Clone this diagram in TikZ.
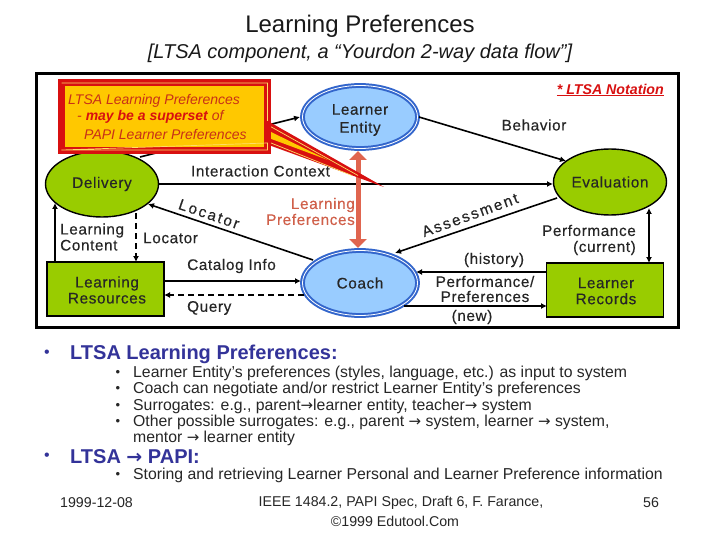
\documentclass[tikz,border=0pt]{standalone}
\usepackage{fontspec}
\setmainfont{Liberation Sans}
\newfontfamily\arrowfont{DejaVu Sans}
\usetikzlibrary{arrows.meta,shapes.geometric}
\definecolor{rednote}{HTML}{D81010}
\definecolor{calloutfill}{HTML}{FFC800}
\definecolor{limefill}{HTML}{99CC00}
\definecolor{bluefill}{HTML}{99CCFF}
\definecolor{blueedge}{HTML}{3366CC}
\definecolor{salmon}{HTML}{E0654F}
\definecolor{navy}{HTML}{333399}
\definecolor{pref}{HTML}{D0604A}
\definecolor{notetext}{HTML}{C83018}
\newcommand{\labfont}{\fontsize{15.3}{16}\selectfont\addfontfeature{LetterSpace=4,FakeBold=0.35}}
\newcommand{\myarrow}{{\arrowfont\scalebox{.95}{→}}}
\tikzset{
  x=1pt,y=-1pt,
  conn/.style={draw=black,line width=1.6pt,-{Latex[length=6pt,width=6pt]}},
  dconn/.style={conn,dash pattern=on 6pt off 4pt},
  limeell/.style={draw=black,line width=1.4pt,fill=limefill,ellipse,inner sep=0pt,minimum width=113pt,minimum height=66pt},
  blueell/.style={draw=blueedge,line width=2pt,fill=bluefill,ellipse,inner sep=0pt,minimum width=115pt,minimum height=63pt,double=white,double distance=.8pt},
  limebox/.style={draw=black,line width=1.6pt,fill=limefill,inner sep=0pt,minimum width=117pt,minimum height=54pt},
  lab/.style={font=\labfont,align=center,inner sep=0pt,text=black!85},
  sub/.style={anchor=west,inner sep=0pt,font=\fontsize{15.8}{17}\selectfont,text=black!85},
  head/.style={anchor=west,inner sep=0pt,font=\fontsize{20}{22}\selectfont\bfseries,text=navy},
  foot/.style={inner sep=0pt,font=\fontsize{14.2}{16}\selectfont,text=black!85},
  notetxt/.style={inner sep=0pt,anchor=west,text=notetext,font=\fontsize{14}{16}\selectfont\itshape},
}
\begin{document}
\begin{tikzpicture}
\useasboundingbox (0,0) rectangle (720,540);
\fill[white] (0,0) rectangle (720,540);
\node[inner sep=0pt,font=\fontsize{24}{26}\selectfont,text=black!90] (title) at (360,26) {Learning Preferences};
\node[inner sep=0pt,font=\fontsize{20}{22}\selectfont\itshape,text=black!90] (subtitle) at (360,53) {[LTSA component, a “Yourdon 2-way data flow”]};
\draw[line width=3pt,fill=white] (36,74) rectangle (678,327);
% nodes
\node[blueell] (learner) at (360,117) {};
\node[blueell,minimum height=65pt] (coach) at (360,283) {};
\node[limeell] (delivery) at (102,184) {};
\node[limeell] (evaluation) at (610,182) {};
\node[limebox] (resources) at (105.5,289) {};
\node[limebox] (records) at (605,290) {};
\node[lab] (tlearner) at (360,120) {Learner\\[2pt]Entity};
\node[lab] (tcoach) at (360,283) {Coach};
\node[lab] (tdelivery) at (102,184) {Delivery};
\node[lab] (tevaluation) at (610,182) {Evaluation};
\node[lab] (tresources) at (107,290) {Learning\\Resources};
\node[lab] (trecords) at (606,291) {Learner\\Records};
% connector ends
\coordinate (delTop) at (140,157);
\coordinate (leIn) at (300,117);
\coordinate (evIn) at (566,161);
\coordinate (leOut) at (419,117);
\coordinate (icA) at (159,184);
\coordinate (icB) at (553,184);
\coordinate (lpA) at (358,151);
\coordinate (lpB) at (358,248);
\coordinate (locA) at (313,260);
\coordinate (locB) at (148,204);
\coordinate (dlA) at (136,262);
\coordinate (dlB) at (136,213);
\coordinate (lcA) at (55,262);
\coordinate (lcB) at (55,203);
\coordinate (caA) at (164,281);
\coordinate (caB) at (301,281);
\coordinate (quA) at (304,295);
\coordinate (quB) at (164,295);
\coordinate (asA) at (557,198);
\coordinate (asB) at (395,253);
\coordinate (pcA) at (649,208);
\coordinate (pcB) at (649,263);
\coordinate (hiA) at (547,272);
\coordinate (hiB) at (416,272);
\coordinate (neA) at (404,306);
\coordinate (neB) at (547,306);
\draw[conn] (delTop) -- (leIn);
\draw[conn] (leOut) -- (evIn);
\draw[conn] (icA) -- (icB);
\draw[conn] (locA) -- (locB);
\draw[dconn] (dlB) -- (dlA);
\draw[conn] (lcA) -- (lcB);
\draw[conn] (caA) -- (caB);
\draw[dconn] (quA) -- (quB);
\draw[conn] (asA) -- (asB);
\draw[conn,{Latex[length=6pt,width=6pt]}-{Latex[length=6pt,width=6pt]}] (pcA) -- (pcB);
\draw[conn] (hiA) -- (hiB);
\draw[conn] (neA) -- (neB);
\draw[draw=salmon,line width=5pt,{Triangle[length=9pt,width=17pt]}-{Triangle[length=9pt,width=17pt]}] (lpA) -- (lpB);
% callout
\coordinate (tip) at (384,187);
\fill[rednote] (266,120) -- (tip) -- (266,144) -- cycle;
\fill[calloutfill] (266,129.5) -- (328,160) -- (266,137) -- cycle;
\draw[calloutfill!60!white,line width=.7pt] (266,124) -- (358,175.5);
\draw[calloutfill!60!white,line width=.7pt] (266,141) -- (352,175.5);
\node[draw=rednote,line width=7pt,fill=calloutfill,minimum width=206pt,minimum height=68pt,inner sep=0pt] (callout) at (164.5,116.5) {};
\draw[calloutfill!60!white,line width=.7pt] (61.5,83) -- (267.5,83) -- (267.5,121) (267.5,143) -- (267.5,150) -- (61.5,150) -- cycle;
\node[notetxt] (n1) at (68,101) {LTSA Learning Preferences};
\node[notetxt] (n2) at (77,117) {- \textcolor{rednote}{\textbf{may be a superset}} of};
\node[notetxt] (n3) at (84,134) {PAPI Learner Preferences};
\node[inner sep=0pt,font=\fontsize{14.2}{16}\selectfont\bfseries\itshape,text=rednote,anchor=east] (notation) at (664,90) {\underline{* LTSA Notation}};
% labels
\node[lab] (ic) at (260.5,171) {Interaction Context};
\node[lab] (beh) at (534,125) {Behavior};
\node[lab,align=right,text=pref,anchor=east] (lp) at (355,211.5) {Learning\\Preferences};
\node[lab,rotate=-19,font=\labfont\addfontfeature{LetterSpace=13}] (loc1) at (209,214) {Locator};
\node[lab,rotate=20,font=\labfont\addfontfeature{LetterSpace=13}] (ass) at (470,215) {Assessment};
\node[lab,anchor=west,align=left] (lc) at (60,237) {Learning\\Content};
\node[lab,anchor=west] (loc2) at (143,238) {Locator};
\node[lab,anchor=west] (cat) at (187,266) {Catalog Info};
\node[lab,anchor=west] (qu) at (187,308) {Query};
\node[lab] (hist) at (494,260) {(history)};
\node[lab] (perf) at (485,289) {Performance/\\[-1pt]Preferences};
\node[lab] (new) at (472,317) {(new)};
\node[lab,align=right,anchor=east] (pc) at (636,240) {Performance\\(current)};
% bullet text
\node[head] (h1) at (70,354) {LTSA Learning Preferences:};
\node[head] (h2) at (70,457) {LTSA \myarrow{} PAPI:};
\node[inner sep=0pt,text=navy,font=\fontsize{16}{18}\selectfont] (b1) at (47,354) {•};
\node[inner sep=0pt,text=navy,font=\fontsize{16}{18}\selectfont] (b2) at (47,457) {•};
\foreach \y/\t in {373.5/{Learner Entity’s preferences (styles, language, etc.) as input to system},
  389.5/{Coach can negotiate and/or restrict Learner Entity’s preferences},
  406.5/{Surrogates: e.g., parent\myarrow{}learner entity, teacher\myarrow{} system},
  422.5/{Other possible surrogates: e.g., parent \myarrow{} system, learner \myarrow{} system,},
  475.5/{Storing and retrieving Learner Personal and Learner Preference information}}{
  \node[sub] at (133,\y) {\t};
  \node[sub,anchor=center,font=\fontsize{13}{15}\selectfont] at (118,\y) {•};
}
\node[sub] (m) at (133,438.5) {mentor \myarrow{} learner entity};
\node[foot,anchor=west] (f1) at (60,503) {1999-12-08};
\node[foot] (f2) at (401,503) {IEEE 1484.2, PAPI Spec, Draft 6, F. Farance,};
\node[foot] (f3) at (395,521) {©1999 Edutool.Com};
\node[foot] (f4) at (651,503) {56};
\end{tikzpicture}
\end{document}
